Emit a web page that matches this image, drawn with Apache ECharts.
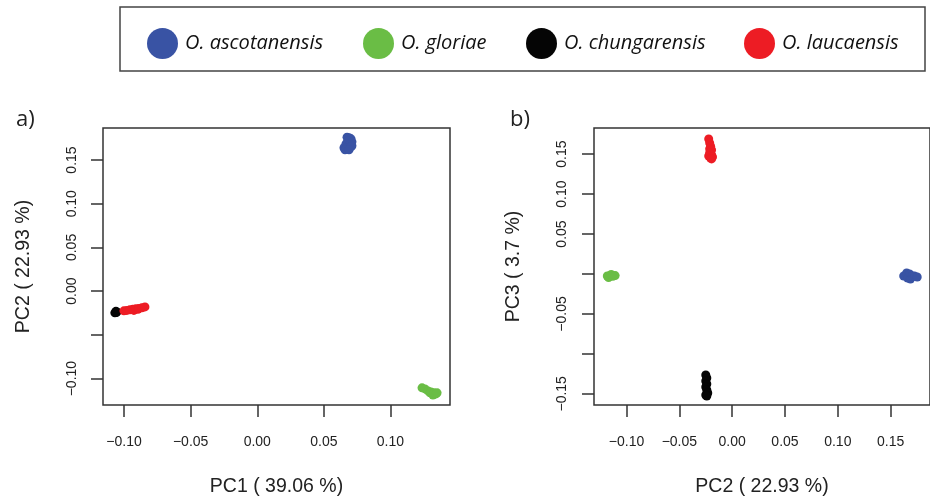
<!DOCTYPE html>
<html>
<head>
<meta charset="utf-8">
<script src="https://cdn.jsdelivr.net/npm/echarts@6/dist/echarts.min.js"></script>
<style>
  html, body { margin: 0; padding: 0; background: #fff; }
  #chart { width: 930px; height: 502px; }
</style>
</head>
<body>
<div id="chart"></div>
<script>
// species names
var species = ['O. ascotanensis', 'O. gloriae', 'O. chungarensis', 'O. laucaensis']
var colors = ['#3953a4', '#6abd45', '#050505', '#ed1c24']

// panel a) PC1 vs PC2
var ascotanensisPC1PC2 = [[0.0674, 0.1760], [0.0689, 0.1754], [0.0704, 0.1742], [0.0681, 0.1719], [0.0711, 0.1708],
  [0.0666, 0.1685], [0.0696, 0.1674], [0.0711, 0.1662], [0.0651, 0.1640], [0.0674, 0.1634], [0.0704, 0.1651],
  [0.0659, 0.1617], [0.0689, 0.1617]]
var gloriaePC1PC2 = [[0.1237, -0.1106], [0.1259, -0.1118], [0.1282, -0.1141], [0.1297, -0.1163], [0.1304, -0.1152],
  [0.1319, -0.1187], [0.1327, -0.1163], [0.1342, -0.1175], [0.1350, -0.1163]]
var chungarensisPC1PC2 = [[-0.1069, -0.0248], [-0.1054, -0.0237], [-0.1061, -0.0231], [-0.1058, -0.0245]]
var laucaensisPC1PC2 = [[-0.1001, -0.0225], [-0.0979, -0.0220], [-0.0956, -0.0214], [-0.0934, -0.0208], [-0.0926, -0.0220],
  [-0.0911, -0.0202], [-0.0896, -0.0208], [-0.0888, -0.0197], [-0.0866, -0.0191], [-0.0843, -0.0180]]

// panel b) PC2 vs PC3
var ascotanensisPC2PC3 = [[0.1624, -0.0025], [0.1652, 0.0013], [0.1661, -0.0050], [0.1679, 0.0000], [0.1688, -0.0063],
  [0.1706, -0.0025], [0.1725, -0.0025], [0.1752, -0.0038]]
var gloriaePC2PC3 = [[-0.1182, -0.0025], [-0.1170, -0.0044], [-0.1145, -0.0006], [-0.1130, -0.0030], [-0.1108, -0.0020]]
var chungarensisPC2PC3 = [[-0.0250, -0.1265], [-0.0240, -0.1302], [-0.0250, -0.1340], [-0.0240, -0.1377], [-0.0250, -0.1415],
  [-0.0240, -0.1452], [-0.0231, -0.1490], [-0.0250, -0.1515], [-0.0240, -0.1527]]
var laucaensisPC2PC3 = [[-0.0222, 0.1690], [-0.0213, 0.1640], [-0.0204, 0.1600], [-0.0213, 0.1565], [-0.0195, 0.1552],
  [-0.0213, 0.1515], [-0.0195, 0.1490], [-0.0222, 0.1477], [-0.0204, 0.1452], [-0.0186, 0.1465], [-0.0195, 0.1440]]

// tick values
var ticksA_x = [-0.10, -0.05, 0.00, 0.05, 0.10]
var labelsA_x = [-0.10, -0.05, 0.00, 0.05, 0.10]
var ticksA_y = [-0.10, -0.05, 0.00, 0.05, 0.10, 0.15]
var labelsA_y = [-0.10, 0.00, 0.05, 0.10, 0.15]
var ticksB_x = [-0.10, -0.05, 0.00, 0.05, 0.10, 0.15]
var labelsB_x = [-0.10, -0.05, 0.00, 0.05, 0.10, 0.15]
var ticksB_y = [-0.15, -0.10, -0.05, 0.00, 0.05, 0.10, 0.15]
var labelsB_y = [-0.15, -0.05, 0.05, 0.10, 0.15]

var panelA = [ascotanensisPC1PC2, gloriaePC1PC2, chungarensisPC1PC2, laucaensisPC1PC2]
var panelB = [ascotanensisPC2PC3, gloriaePC2PC3, chungarensisPC2PC3, laucaensisPC2PC3]

var axisFont = 'Liberation Sans, Arial, sans-serif'

function fmt (v) {
  return Number(v).toFixed(2).replace('-', '\u2212')
}

function makeAxis (opts) {
  return {
    type: 'value',
    gridIndex: opts.grid,
    min: opts.min,
    max: opts.max,
    name: opts.name,
    nameLocation: 'middle',
    nameGap: opts.nameGap,
    nameTextStyle: { fontFamily: axisFont, fontSize: 19.5, color: '#222' },
    splitLine: { show: false },
    axisLine: { show: false, onZero: false },
    axisTick: {
      show: true,
      length: 12,
      customValues: opts.ticks,
      lineStyle: { color: '#333', width: 1.5 }
    },
    axisLabel: {
      show: true,
      rotate: opts.rotate || 0,
      margin: opts.margin,
      customValues: opts.labels,
      formatter: fmt,
      fontFamily: axisFont,
      fontSize: 14,
      color: '#222'
    }
  }
}

var series = []
species.forEach(function (name, i) {
  series.push({
    name: name,
    type: 'scatter',
    xAxisIndex: 0,
    yAxisIndex: 0,
    symbolSize: 9,
    itemStyle: { color: colors[i], opacity: 1 },
    data: panelA[i]
  })
  series.push({
    name: name,
    type: 'scatter',
    xAxisIndex: 1,
    yAxisIndex: 1,
    symbolSize: 9,
    itemStyle: { color: colors[i], opacity: 1 },
    data: panelB[i]
  })
})

var legendLeft = [142, 358, 521, 739]
var legends = species.map(function (name, i) {
  return {
    data: [{ name: name, icon: 'circle', itemStyle: { color: colors[i], opacity: 1 } }],
    left: legendLeft[i],
    top: 23,
    itemWidth: 31,
    itemHeight: 32,
    selectedMode: false,
    textStyle: {
      fontFamily: 'Open Sans, sans-serif',
      fontStyle: 'italic',
      fontSize: 20,
      color: '#111',
      padding: [0, 0, 0, 2]
    }
  }
})

var chart = echarts.init(document.getElementById('chart'))
chart.setOption({
  animation: false,
  backgroundColor: '#fff',
  title: [
    { text: 'a)', left: 11, top: 104, textStyle: { fontFamily: 'Open Sans, sans-serif', fontSize: 22, fontWeight: 'normal', color: '#222' } },
    { text: 'b)', left: 505, top: 104, textStyle: { fontFamily: 'Open Sans, sans-serif', fontSize: 22, fontWeight: 'normal', color: '#222' } }
  ],
  graphic: [{
    type: 'rect',
    shape: { x: 120, y: 7, width: 805, height: 64 },
    style: { fill: 'none', stroke: '#444', lineWidth: 1.5 }
  }],
  legend: legends,
  grid: [
    { left: 103, top: 128, width: 347, height: 277, show: true, borderColor: '#333', borderWidth: 1.5, backgroundColor: 'transparent' },
    { left: 594, top: 128, width: 348, height: 277, show: true, borderColor: '#333', borderWidth: 1.5, backgroundColor: 'transparent' }
  ],
  xAxis: [
    makeAxis({ grid: 0, min: -0.1158, max: 0.1447, name: 'PC1 ( 39.06 %)', nameGap: 72, ticks: ticksA_x, labels: labelsA_x, margin: 30 }),
    makeAxis({ grid: 1, min: -0.1308, max: 0.1873, name: 'PC2 ( 22.93 %)', nameGap: 72, ticks: ticksB_x, labels: labelsB_x, margin: 30 })
  ],
  yAxis: [
    makeAxis({ grid: 0, min: -0.1302, max: 0.1866, name: 'PC2 ( 22.93 %)', nameGap: 69, ticks: ticksA_y, labels: labelsA_y, margin: 24, rotate: 90 }),
    makeAxis({ grid: 1, min: -0.1640, max: 0.1827, name: 'PC3 ( 3.7 %)', nameGap: 70, ticks: ticksB_y, labels: labelsB_y, margin: 25, rotate: 90 })
  ],
  series: series
})
</script>
</body>
</html>
